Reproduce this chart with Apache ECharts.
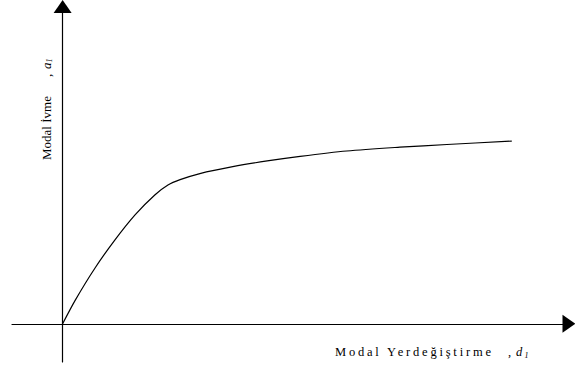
<!DOCTYPE html>
<html>
<head>
<meta charset="utf-8">
<script src="https://cdn.jsdelivr.net/npm/echarts@6/dist/echarts.min.js"></script>
<style>
  html, body { margin: 0; padding: 0; background: #fff; }
  #chart { width: 575px; height: 369px; }
</style>
</head>
<body>
<div id="chart"></div>
<script>
// Modal capacity curve: modal displacement d1 vs modal acceleration a1 (arbitrary units)
const displacement = [0, 0.25, 0.64, 1.03, 1.43, 1.82, 2.08, 2.32, 2.71, 3.36, 4.04, 4.69, 5.61, 6.66, 7.59, 8.87];
const acceleration = [0, 0.62, 1.46, 2.19, 2.85, 3.37, 3.63, 3.77, 3.93, 4.11, 4.26, 4.38, 4.52, 4.62, 4.69, 4.78];
const xLabel = 'Modal Yerdeğiştirme';
const yLabel = 'Modal İvme';

const curve = displacement.map((d, i) => [d, acceleration[i]]);

const serif = '"Liberation Serif", "Times New Roman", serif';
const axisBase = {
  type: 'value',
  axisLine: {
    show: true,
    onZero: true,
    symbol: ['none', 'triangle'],
    symbolSize: [18, 13],
    lineStyle: { color: '#000', width: 1.2 }
  },
  axisTick: { show: false },
  axisLabel: { show: false },
  splitLine: { show: false }
};

function txt(id, x, y, text, size, italic, extra) {
  return Object.assign({
    type: 'text', id: id, x: x, y: y,
    style: {
      text: text, fontFamily: serif, fontSize: size,
      fontStyle: italic ? 'italic' : 'normal', fill: '#000',
      textAlign: 'left', textVerticalAlign: 'middle'
    }
  }, extra || {});
}

const up = { rotation: Math.PI / 2 };

const chart = echarts.init(document.getElementById('chart'), null, { renderer: 'svg' });
chart.setOption({
  animation: false,
  backgroundColor: '#fff',
  grid: { left: 12, right: 6, top: 6.5, bottom: 7 },
  xAxis: Object.assign({}, axisBase, { min: -1, max: 10 }),
  yAxis: Object.assign({}, axisBase, { min: -1, max: 8.3 }),
  series: [{
    type: 'line',
    data: curve,
    smooth: 0.3,
    showSymbol: false,
    lineStyle: { color: '#000', width: 1.2 }
  }],
  graphic: [
    // horizontal axis title
    txt('xname', 335, 352, xLabel, 12.5, false),
    txt('xcomma', 508, 352, ',', 12.5, false),
    txt('xsym', 516, 352, 'd', 12.5, true),
    txt('xsub', 524.5, 355, '1', 8, true),
    // vertical axis title (reads bottom to top)
    txt('yname', 46, 160, yLabel, 13, false, up),
    txt('ycomma', 46, 77, ',', 13, false, up),
    txt('ysym', 46, 69, 'a', 13, true, up),
    txt('ysub', 49, 62.5, '1', 8, true, up)
  ]
});

// widen the tracking of the horizontal axis title
function spaceOut() {
  document.querySelectorAll('#chart svg text').forEach(function (t) {
    if (t.textContent === xLabel) t.setAttribute('letter-spacing', '2.8');
  });
}
spaceOut();
chart.on('finished', spaceOut);
</script>
</body>
</html>
